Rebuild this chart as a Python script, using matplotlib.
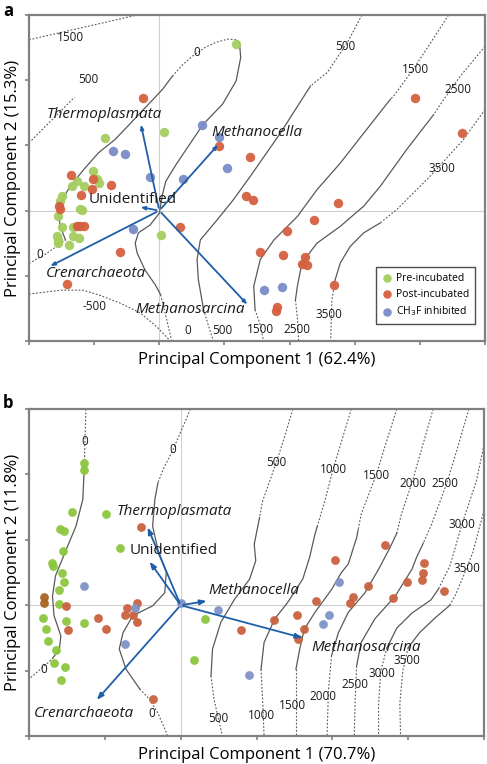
import matplotlib
matplotlib.use("Agg")
import matplotlib.pyplot as plt

plt.rcParams['font.family'] = ['Open Sans', 'DejaVu Sans']

# ---------------- Panel a data ----------------
a_pre_x = [1.18, 0.07, -0.83, -1.01, -0.95, -0.93, -1.26, -1.34, -1.15, -1.50, -1.52, -1.22, -1.18,
           -1.55, -1.50, -1.32, -1.57, -1.33, -1.23, -1.55, -1.39, -1.56, 0.02]
a_pre_y = [2.55, 1.20, 1.11, 0.60, 0.49, 0.43, 0.45, 0.37, 0.37, 0.22, 0.14, 0.02, 0.01,
           -0.08, -0.25, -0.25, -0.39, -0.39, -0.42, -0.50, -0.53, -0.45, -0.38]
a_post_x = [-0.25, 0.91, 1.39, 1.33, 1.44, 3.93, 4.65, 2.74, 2.37, 1.96, 1.55, 1.90, 2.24, 2.19, 2.27,
            2.68, 1.81, 1.79, 0.32, -0.61, -1.42, -0.74, -1.36, -1.02, -1.04, -1.20, -1.54, -1.53,
            -1.26, -1.16, -1.21]
a_post_y = [1.72, 0.99, 0.82, 0.22, 0.16, 1.72, 1.19, 0.12, -0.14, -0.32, -0.63, -0.68, -0.71, -0.82, -0.83,
            -1.14, -1.48, -1.54, -0.25, -0.63, -1.13, 0.40, 0.55, 0.48, 0.33, 0.24, 0.07, 0.03,
            -0.23, -0.23, -0.23]
a_inh_x = [0.66, 0.91, 1.04, -0.71, -0.52, -0.14, 0.37, -0.41, 1.60, 1.88]
a_inh_y = [1.32, 1.13, 0.65, 0.91, 0.87, 0.52, 0.48, -0.28, -1.22, -1.17]

a_taxa = ["Thermoplasmata", "Methanocella", "Unidentified", "Crenarchaeota", "Methanosarcina"]
a_vec_x = [-0.29, 0.93, -0.33, -1.71, 1.38]
a_vec_y = [1.36, 1.04, 0.06, -0.87, -1.47]
a_taxa_lx = [-0.84, 1.50, -0.41, -0.97, 0.48]
a_taxa_ly = [1.47, 1.20, 0.17, -0.97, -1.52]

a_clab_text = ["1500", "500", "0", "500", "1500", "2500", "3500", "0", "-500", "3500", "0", "500", "1500", "2500"]
a_clab_x = [-1.37, -1.09, 0.57, 2.86, 3.93, 4.59, 4.34, -1.84, -1.00, 2.61, 0.44, 0.97, 1.55, 2.12]
a_clab_y = [2.66, 2.01, 2.42, 2.52, 2.16, 1.86, 0.64, -0.67, -1.47, -1.60, -1.84, -1.84, -1.83, -1.82]

# contour traces (dashed = model surface, solid = fitted region)
A_D1500_TL = [(-2.0, 2.62), (-0.34, 3.0)]
A_D500_TL = [(-2.0, 1.04), (-1.30, 1.74)]
A_D0_TOP = [(0.20, 2.06), (0.35, 2.23), (0.51, 2.37), (0.70, 2.50), (0.87, 2.58), (1.05, 2.63), (1.18, 2.62), (1.23, 2.58)]
A_D0_LL = [(-2.0, -0.81), (-1.75, -0.67), (-1.55, -0.53), (-1.44, -0.45)]
A_DM500 = [(-2.0, -1.28), (-1.5, -1.22), (-1.17, -1.22), (-0.91, -1.30), (-0.60, -1.42), (-0.29, -1.57), (-0.04, -1.78), (0.17, -2.0)]
A_D0_BOT = [(0.02, -1.29), (0.09, -1.57), (0.19, -2.0)]
A_D500_TOP = [(3.11, 3.0), (2.90, 2.6), (2.58, 2.12), (2.32, 1.91)]
A_D500_BOT = [(0.68, -1.52), (0.75, -1.75), (0.83, -2.0)]
A_D1500_TOP = [(4.44, 3.0), (4.15, 2.55), (3.90, 2.17), (3.60, 1.76), (3.55, 1.71)]
A_D1500_BOT = [(1.47, -1.52), (1.55, -1.75), (1.60, -2.0)]
A_D2500_TOP = [(5.0, 2.52), (4.62, 2.06), (4.37, 1.71), (4.21, 1.47)]
A_D2500_BOT = [(2.09, -1.37), (2.12, -1.65), (2.14, -2.0)]
A_D3500_TOP = [(5.0, 1.55), (4.67, 1.09), (4.16, 0.53), (3.65, 0.02), (3.39, -0.19)]
A_D3500_BOT = [(2.70, -1.06), (2.65, -1.37), (2.63, -2.0)]
A_S0_L = [(-1.44, -0.45), (-1.52, -0.24), (-1.55, -0.04), (-1.49, 0.17), (-1.37, 0.37), (-1.16, 0.63),
          (-0.93, 0.89), (-0.68, 1.09), (-0.46, 1.32), (0.05, 1.86), (0.20, 2.06)]
A_S0_R = [(1.23, 2.58), (1.25, 2.35), (1.18, 1.99), (0.97, 1.63), (0.67, 1.32), (0.26, 0.71), (0.10, 0.45),
          (0.05, 0.25), (0.0, -0.04), (-0.14, -0.22), (-0.32, -0.34), (-0.37, -0.50), (-0.34, -0.65),
          (-0.22, -0.91), (-0.06, -1.14), (0.02, -1.29)]
A_S500 = [(2.32, 1.91), (1.86, 1.19), (1.40, 0.53), (1.14, 0.17), (0.89, -0.14), (0.63, -0.45), (0.58, -0.75),
          (0.60, -1.06), (0.68, -1.52)]
A_S1500 = [(3.55, 1.71), (3.14, 1.19), (2.78, 0.73), (2.42, 0.32), (2.12, -0.09), (1.76, -0.45), (1.55, -0.75),
           (1.45, -1.16), (1.47, -1.52)]
A_S2500 = [(4.21, 1.47), (3.80, 0.94), (3.39, 0.37), (3.14, 0.07), (2.78, -0.24), (2.42, -0.50), (2.19, -0.80),
           (2.12, -1.16), (2.09, -1.37)]
A_S3500 = [(3.39, -0.19), (3.14, -0.34), (2.93, -0.55), (2.78, -0.80), (2.70, -1.06)]

a_dashed = [A_D1500_TL, A_D500_TL, A_D0_TOP, A_D0_LL, A_DM500, A_D0_BOT, A_D500_TOP, A_D500_BOT,
            A_D1500_TOP, A_D1500_BOT, A_D2500_TOP, A_D2500_BOT, A_D3500_TOP, A_D3500_BOT]
a_solid = [A_S0_L, A_S0_R, A_S500, A_S1500, A_S2500, A_S3500]

# ---------------- Panel b data ----------------
b_pre_x = [-1.27, -1.27, -1.43, -0.98, -1.59, -1.54, -1.55, -0.80, -1.70, -1.68, -1.56, -1.54, -1.60, -1.61,
           -1.82, -1.51, -1.28, -1.77, -1.75, -1.64, -1.67, -1.52, -1.58, 0.32, 0.17]
b_pre_y = [2.18, 2.07, 1.43, 1.39, 1.16, 1.13, 0.83, 0.88, 0.64, 0.60, 0.49, 0.35, 0.24, 0.02,
           -0.20, -0.24, -0.27, -0.37, -0.55, -0.68, -0.89, -0.94, -1.14, -0.21, -0.84]
b_mixed_x = [-1.80, -1.80]
b_mixed_y = [0.13, 0.03]
b_post_x = [-0.52, -1.51, -1.49, -1.09, -0.99, -0.71, -0.57, -0.74, -0.63, -0.57, -0.37, 0.79, 1.23, 1.54,
            1.62, 1.55, 1.79, 2.04, 2.23, 2.27, 2.47, 2.70, 2.80, 2.99, 3.18, 3.20, 3.21, 3.47]
b_post_y = [1.20, -0.01, -0.38, -0.20, -0.37, -0.04, 0.04, -0.15, -0.15, -0.25, -1.43, -0.38, -0.22, -0.15,
            -0.36, -0.52, 0.07, 0.69, 0.04, 0.12, 0.30, 0.92, 0.11, 0.36, 0.39, 0.49, 0.64, 0.22]
b_inh_x = [-1.27, -0.60, -0.74, 0.01, 0.49, 0.90, 2.09, 1.95, 1.88]
b_inh_y = [0.30, -0.05, -0.59, 0.03, -0.08, -1.06, 0.35, -0.15, -0.29]

b_taxa = ["Thermoplasmata", "Unidentified", "Methanocella", "Methanosarcina", "Crenarchaeota"]
b_vec_x = [-0.45, -0.43, 0.38, 1.64, -1.13]
b_vec_y = [1.23, 0.70, 0.07, -0.51, -1.48]
b_taxa_lx = [-0.08, -0.09, 0.97, 2.44, -1.27]
b_taxa_ly = [1.43, 0.84, 0.23, -0.65, -1.65]

b_clab_text = ["0", "0", "500", "1000", "1500", "2000", "2500", "3000", "3500",
               "3500", "3000", "2500", "2000", "1500", "1000", "500", "0", "0"]
b_clab_x = [-1.26, -0.11, 1.26, 2.01, 2.58, 3.06, 3.49, 3.71, 3.77,
            2.99, 2.65, 2.30, 1.88, 1.47, 1.06, 0.49, -0.38, -1.81]
b_clab_y = [2.50, 2.38, 2.18, 2.08, 1.99, 1.86, 1.86, 1.24, 0.56,
            -0.85, -1.05, -1.22, -1.39, -1.54, -1.69, -1.73, -1.65, -0.98]

B_D0L_TOP = [(-1.25, 3.0), (-1.26, 2.6), (-1.27, 2.15)]
B_S0L = [(-1.27, 2.15), (-1.29, 1.62), (-1.38, 1.21), (-1.51, 0.85), (-1.65, 0.45), (-1.69, 0.14),
         (-1.67, -0.16), (-1.58, -0.47), (-1.60, -0.67), (-1.68, -0.80)]
B_D0L_BOT = [(-1.68, -0.80), (-1.74, -0.87), (-2.0, -1.13)]
B_D0M_TOP = [(0.13, 3.0), (0.0, 2.65), (-0.10, 2.38), (-0.23, 2.08), (-0.30, 1.87)]
B_S0M = [(-0.30, 1.87), (-0.34, 1.62), (-0.37, 1.21), (-0.30, 0.85), (-0.19, 0.50), (-0.21, 0.19),
         (-0.37, -0.01), (-0.63, -0.16), (-0.76, -0.42), (-0.81, -0.67), (-0.72, -0.98), (-0.54, -1.28)]
B_D0M_BOT = [(-0.54, -1.28), (-0.41, -1.44), (-0.30, -1.65), (-0.17, -2.0)]
B_D500_TOP = [(1.48, 3.0), (1.35, 2.5), (1.26, 2.18), (1.08, 1.59), (1.04, 1.34)]
B_S500 = [(1.04, 1.34), (0.97, 0.93), (0.99, 0.68), (0.91, 0.40), (0.71, 0.09), (0.53, -0.26), (0.42, -0.67), (0.40, -1.08)]
B_D500_BOT = [(0.40, -1.08), (0.44, -1.44), (0.55, -2.0)]
B_D1000_TOP = [(2.25, 3.0), (2.12, 2.5), (2.01, 2.08), (1.90, 1.59), (1.80, 1.2)]
B_S1000 = [(1.80, 1.2), (1.77, 1.08), (1.70, 0.73), (1.61, 0.40), (1.41, 0.04), (1.24, -0.21), (1.10, -0.57), (1.06, -0.98)]
B_D1000_BOT = [(1.06, -0.98), (1.08, -1.44), (1.10, -2.0)]
B_D1500_TOP = [(2.85, 3.0), (2.70, 2.45), (2.58, 2.0), (2.38, 1.39), (2.34, 1.15)]
B_S1500 = [(2.34, 1.15), (2.32, 1.03), (2.21, 0.63), (2.12, 0.50), (1.99, 0.24), (1.77, -0.11), (1.63, -0.37),
           (1.57, -0.67), (1.52, -0.98)]
B_D1500_BOT = [(1.52, -0.98), (1.52, -1.44), (1.52, -2.0)]
B_D2000_TOP = [(3.33, 3.0), (3.18, 2.4), (3.05, 1.87), (2.91, 1.39), (2.85, 1.1)]
B_S2000 = [(2.85, 1.1), (2.76, 0.88), (2.61, 0.55), (2.43, 0.19), (2.21, -0.11), (2.08, -0.42), (1.99, -0.77)]
B_D2000_BOT = [(1.99, -0.77), (1.95, -1.28), (1.93, -2.0)]
B_D2500_TOP = [(3.80, 3.0), (3.65, 2.4), (3.51, 1.87), (3.31, 1.24), (3.2, 0.95)]
B_S2500 = [(3.2, 0.95), (3.11, 0.73), (3.05, 0.55), (2.83, 0.14), (2.56, -0.21), (2.38, -0.57), (2.32, -0.93)]
B_D2500_BOT = [(2.32, -0.93), (2.30, -1.49), (2.29, -2.0)]
B_D3000_TOP = [(4.0, 2.45), (3.90, 1.9), (3.71, 1.24), (3.55, 0.6), (3.40, 0.25)]
B_S3000 = [(3.40, 0.25), (3.30, 0.08), (3.05, -0.12), (2.85, -0.35), (2.72, -0.65)]
B_D3000_BOT = [(2.72, -0.65), (2.64, -1.0), (2.61, -1.5), (2.61, -2.0)]
B_D3500_TOP = [(4.0, 1.45), (3.85, 0.8), (3.77, 0.56), (3.62, 0.15), (3.55, 0.0)]
B_S3500 = [(3.55, 0.0), (3.35, -0.2), (3.15, -0.42), (3.0, -0.65)]
B_D3500_BOT = [(3.0, -0.65), (2.93, -1.0), (2.89, -1.5), (2.90, -2.0)]

b_dashed = [B_D0L_TOP, B_D0L_BOT, B_D0M_TOP, B_D0M_BOT, B_D500_TOP, B_D500_BOT, B_D1000_TOP, B_D1000_BOT,
            B_D1500_TOP, B_D1500_BOT, B_D2000_TOP, B_D2000_BOT, B_D2500_TOP, B_D2500_BOT,
            B_D3000_TOP, B_D3000_BOT, B_D3500_TOP, B_D3500_BOT]
b_solid = [B_S0L, B_S0M, B_S500, B_S1000, B_S1500, B_S2000, B_S2500, B_S3000, B_S3500]

# ---------------- styling ----------------
W, H = 487, 764
fig = plt.figure(figsize=(W / 100, H / 100), dpi=100)

COL_LINE = "#595959"
COL_ARROW = "#1f5ea8"


def make_axes(l, t, r, b):
    ax = fig.add_axes([l / W, 1 - b / H, (r - l) / W, (b - t) / H])
    for s in ax.spines.values():
        s.set_color("#808080")
        s.set_linewidth(1.6)
    ax.tick_params(direction="out", length=3, width=1.2, color="#808080",
                   labelbottom=False, labelleft=False)
    return ax


def draw_contours(ax, dashed, solid):
    for seg in dashed:
        xs, ys = zip(*seg)
        ax.plot(xs, ys, color=COL_LINE, lw=0.8, dashes=(1.6, 1.6), zorder=1)
    for seg in solid:
        xs, ys = zip(*seg)
        ax.plot(xs, ys, color=COL_LINE, lw=0.9, zorder=1)


def draw_labels(ax, texts, xs, ys, size=8.5):
    for t, x, y in zip(texts, xs, ys):
        ax.text(x, y, t, fontsize=size, ha="center", va="center", color="#1a1a1a", zorder=2)


# ---- panel a ----
axa = make_axes(29, 15, 485, 341)
axa.set_xlim(-2, 5)
axa.set_ylim(-2, 3)
axa.set_xticks(range(-2, 6))
axa.set_yticks(range(-2, 4))
axa.axhline(0, color="#d0d0d0", lw=0.8, zorder=0)
axa.axvline(0, color="#d0d0d0", lw=0.8, zorder=0)
draw_contours(axa, a_dashed, a_solid)
draw_labels(axa, a_clab_text, a_clab_x, a_clab_y)
ms = 46
axa.scatter(a_pre_x, a_pre_y, s=ms, color="#a5cd60", alpha=0.95, lw=0, zorder=3, label="Pre-incubated")
axa.scatter(a_post_x, a_post_y, s=ms, color="#d5603f", alpha=0.95, lw=0, zorder=3, label="Post-incubated")
axa.scatter(a_inh_x, a_inh_y, s=ms, color="#7a8cc8", alpha=0.95, lw=0, zorder=3, label="CH$_3$F inhibited")
for name, vx, vy, lx, ly in zip(a_taxa, a_vec_x, a_vec_y, a_taxa_lx, a_taxa_ly):
    axa.annotate("", xy=(vx, vy), xytext=(0, 0),
                 arrowprops=dict(arrowstyle="-|>,head_length=0.25,head_width=0.1", color=COL_ARROW, lw=1.3),
                 zorder=4)
    axa.text(lx, ly, name, fontsize=11, ha="center", va="center",
             style="normal" if name == "Unidentified" else "italic", color="#1a1a1a", zorder=5)
leg = axa.legend(loc="lower right", bbox_to_anchor=(0.99, 0.035), fontsize=7.5, frameon=True, fancybox=False,
                 edgecolor="#222222", handletextpad=0.3, borderpad=0.6, labelspacing=0.45,
                 handlelength=1.0, markerscale=0.9)
leg.get_frame().set_linewidth(1.0)
axa.set_xlabel("Principal Component 1 (62.4%)", fontsize=12, labelpad=5)
axa.set_ylabel("Principal Component 2 (15.3%)", fontsize=12, labelpad=3)
fig.text(3 / W, 1 - 2 / H, "a", fontsize=12, fontweight="bold", ha="left", va="top")

# ---- panel b ----
axb = make_axes(29, 409, 484, 736)
axb.set_xlim(-2, 4)
axb.set_ylim(-2, 3)
axb.set_xticks(range(-2, 5))
axb.set_yticks(range(-2, 4))
axb.axhline(0, color="#d0d0d0", lw=0.8, zorder=0)
axb.axvline(0, color="#d0d0d0", lw=0.8, zorder=0)
draw_contours(axb, b_dashed, b_solid)
draw_labels(axb, b_clab_text, b_clab_x, b_clab_y)
msb = 40
axb.scatter(b_pre_x, b_pre_y, s=msb, color="#8cc63e", alpha=0.95, lw=0, zorder=3)
axb.scatter(b_post_x, b_post_y, s=msb, color="#c9613e", alpha=0.95, lw=0, zorder=3)
axb.scatter(b_mixed_x, b_mixed_y, s=msb, color="#a9641f", alpha=0.95, lw=0, zorder=3)
axb.scatter(b_inh_x, b_inh_y, s=msb, color="#8092c8", alpha=0.95, lw=0, zorder=3)
for name, vx, vy, lx, ly in zip(b_taxa, b_vec_x, b_vec_y, b_taxa_lx, b_taxa_ly):
    axb.annotate("", xy=(vx, vy), xytext=(0, 0),
                 arrowprops=dict(arrowstyle="-|>,head_length=0.4,head_width=0.15", color=COL_ARROW, lw=1.3),
                 zorder=4)
    axb.text(lx, ly, name, fontsize=11, ha="center", va="center",
             style="normal" if name == "Unidentified" else "italic", color="#1a1a1a", zorder=5)
axb.set_xlabel("Principal Component 1 (70.7%)", fontsize=12, labelpad=5)
axb.set_ylabel("Principal Component 2 (11.8%)", fontsize=12, labelpad=3)
fig.text(3 / W, 1 - 394 / H, "b", fontsize=12, fontweight="bold", ha="left", va="top")

fig.savefig("out.png", dpi=100)
